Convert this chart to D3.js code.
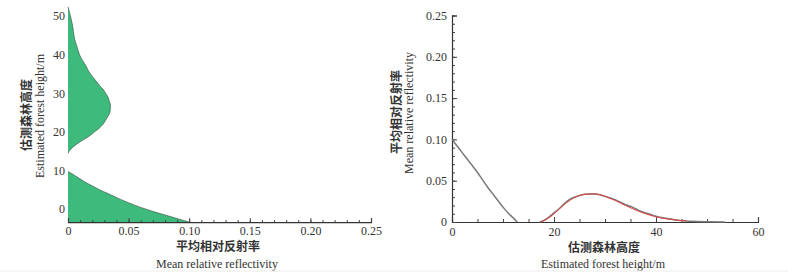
<!DOCTYPE html>
<html>
<head>
<meta charset="utf-8">
<script src="https://cdn.jsdelivr.net/npm/d3@7"></script>
<style>
  body { margin: 0; background: #fff; }
  svg text { font-family: "Liberation Serif", "DejaVu Serif", serif; fill: #333; }
  .cn { font-family: "Noto Sans CJK SC", sans-serif; font-weight: bold; }
</style>
</head>
<body>
<svg id="fig" width="788" height="274"></svg>
<script>
// Left panel: estimated height (m) vs mean relative reflectivity, filled profile
const lowHeight = [-3.4, -2, -1, 0, 1, 2, 3, 4, 5, 6, 7, 8, 9, 9.7];
const lowRefl   = [0.100, 0.085, 0.074, 0.064, 0.055, 0.047, 0.040, 0.033, 0.026, 0.020, 0.014, 0.009, 0.004, 0];
const upHeight  = [14.4, 15, 16, 17, 18, 19, 20, 21, 22, 23, 24, 25, 26, 27, 28, 29, 30, 31, 32, 33, 34, 35, 36, 37, 38, 39, 40, 42, 44, 46, 48, 50, 51, 52.4];
const upRefl    = [0, 0.001, 0.004, 0.008, 0.013, 0.018, 0.022, 0.026, 0.029, 0.031, 0.033, 0.0345, 0.035, 0.035, 0.034, 0.033, 0.031, 0.029, 0.026, 0.0235, 0.021, 0.0185, 0.0165, 0.015, 0.013, 0.011, 0.0095, 0.0075, 0.0055, 0.0045, 0.0035, 0.002, 0.0012, 0];

// Right panel: reflectivity vs estimated height
const grayHeight = [0, 1, 2, 3, 4, 5, 6, 7, 8, 9, 10, 11, 12, 12.8];
const grayRefl   = [0.100, 0.092, 0.084, 0.076, 0.068, 0.060, 0.051, 0.042, 0.034, 0.026, 0.018, 0.011, 0.005, 0];
const bumpHeight = [17.2, 18, 19, 20, 21, 22, 23, 24, 25, 26, 27, 28, 29, 30, 31, 32, 33, 34, 35, 36, 37, 38, 39, 40, 41, 42, 43, 44, 45, 46, 47, 48, 50, 53.5];
const bumpRefl   = [0, 0.002, 0.006, 0.011, 0.016, 0.022, 0.027, 0.030, 0.032, 0.0335, 0.034, 0.034, 0.033, 0.031, 0.029, 0.027, 0.024, 0.021, 0.019, 0.016, 0.013, 0.011, 0.009, 0.007, 0.0055, 0.0045, 0.0035, 0.0025, 0.0018, 0.0012, 0.0008, 0.0005, 0.0002, 0];
const fitHeight  = [17.5, 19, 20, 22, 24, 26, 28, 30, 32, 34, 36, 38, 40, 42, 44, 46];
const fitRefl    = [0, 0.005, 0.010, 0.021, 0.0295, 0.0335, 0.034, 0.031, 0.026, 0.020, 0.0145, 0.0098, 0.0063, 0.0038, 0.0022, 0.0012];

const reflTicks = [0, 0.05, 0.10, 0.15, 0.20, 0.25];
const reflLabels = ["0", "0.05", "0.10", "0.15", "0.20", "0.25"];
const heightTicksL = [0, 10, 20, 30, 40, 50];
const heightTicksR = [0, 20, 40, 60];

const svg = d3.select("#fig");

//////////////////// Left panel ////////////////////
const xL = d3.scaleLinear().domain([0, 0.25]).range([68, 371]);
const yL = d3.scaleLinear().domain([0, 50]).range([209, 16]);
const gL = svg.append("g");

const area = d3.area()
    .curve(d3.curveMonotoneY)
    .y(d => yL(d.h))
    .x0(xL(0))
    .x1(d => xL(d.v));
const edge = d3.line()
    .curve(d3.curveMonotoneY)
    .y(d => yL(d.h))
    .x(d => xL(d.v));

[[lowHeight, lowRefl], [upHeight, upRefl]].forEach(([hs, vs]) => {
    const data = hs.map((h, i) => ({h: h, v: vs[i]}));
    gL.append("path").datum(data)
        .attr("fill", "#3dba7c")
        .attr("d", area);
    gL.append("path").datum(data)
        .attr("fill", "none")
        .attr("stroke", "#3d4a42")
        .attr("stroke-width", 0.6)
        .attr("d", edge);
});

gL.append("g")
    .attr("transform", `translate(0,${yL(-3.4)})`)
    .call(d3.axisBottom(xL).tickValues(d3.range(0, 0.2501, 0.01)).tickSize(-2).tickFormat(""))
    .call(g => g.select(".domain").remove())
    .selectAll("line").attr("stroke", "#444");
gL.append("g")
    .attr("transform", `translate(0,${yL(-3.4)})`)
    .call(d3.axisBottom(xL).tickValues(reflTicks).tickSize(-4).tickPadding(4)
        .tickFormat((d, i) => reflLabels[i]))
    .call(g => g.select(".domain").attr("stroke", "#333").attr("stroke-width", 1.2))
    .call(g => g.selectAll("line").attr("stroke", "#444"))
    .call(g => g.selectAll("text").style("font-size", "12px").attr("fill", "#333"));

gL.append("g")
    .attr("transform", `translate(${xL(0)},0)`)
    .call(d3.axisLeft(yL).tickValues(heightTicksL).tickSize(0).tickPadding(3))
    .call(g => g.select(".domain").remove())
    .call(g => g.selectAll("text").style("font-size", "12px").attr("fill", "#333"));

gL.append("text").attr("class", "cn")
    .attr("x", 218).attr("y", 251).attr("text-anchor", "middle")
    .style("font-size", "12px").text("平均相对反射率");
gL.append("text")
    .attr("x", 217).attr("y", 268).attr("text-anchor", "middle")
    .style("font-size", "12px").text("Mean relative reflectivity");
gL.append("text").attr("class", "cn")
    .attr("transform", "translate(31,115) rotate(-90)").attr("text-anchor", "middle")
    .style("font-size", "12px").text("估测森林高度");
gL.append("text")
    .attr("transform", "translate(44,116) rotate(-90)").attr("text-anchor", "middle")
    .style("font-size", "12px").text("Estimated forest height/m");

//////////////////// Right panel ////////////////////
const xR = d3.scaleLinear().domain([0, 60]).range([452, 758]);
const yR = d3.scaleLinear().domain([0, 0.25]).range([222, 15.5]);
const gR = svg.append("g");

gR.append("g")
    .attr("transform", `translate(0,${yR(0)})`)
    .call(d3.axisBottom(xR).tickValues(d3.range(0, 61, 5)).tickSize(-3).tickFormat(""))
    .call(g => g.select(".domain").remove())
    .selectAll("line").attr("stroke", "#444");
gR.append("g")
    .attr("transform", `translate(0,${yR(0)})`)
    .call(d3.axisBottom(xR).tickValues(heightTicksR).tickSize(-5).tickPadding(5))
    .call(g => g.select(".domain").attr("stroke", "#333").attr("stroke-width", 1.2))
    .call(g => g.selectAll("line").attr("stroke", "#444"))
    .call(g => g.selectAll("text").style("font-size", "12px").attr("fill", "#333"));

gR.append("g")
    .attr("transform", `translate(${xR(0)},0)`)
    .call(d3.axisLeft(yR).tickValues(d3.range(0, 0.2501, 0.01)).tickSize(-3).tickFormat(""))
    .call(g => g.select(".domain").remove())
    .selectAll("line").attr("stroke", "#444");
gR.append("g")
    .attr("transform", `translate(${xR(0)},0)`)
    .call(d3.axisLeft(yR).tickValues(reflTicks).tickSize(-5).tickPadding(5)
        .tickFormat((d, i) => reflLabels[i]))
    .call(g => g.select(".domain").attr("stroke", "#333").attr("stroke-width", 1.2))
    .call(g => g.selectAll("line").attr("stroke", "#444"))
    .call(g => g.selectAll("text").style("font-size", "12px").attr("fill", "#333"));

const lineR = d3.line()
    .curve(d3.curveMonotoneX)
    .x(d => xR(d.h))
    .y(d => yR(d.v));

[[grayHeight, grayRefl], [bumpHeight, bumpRefl]].forEach(([hs, vs]) => {
    gR.append("path")
        .datum(hs.map((h, i) => ({h: h, v: vs[i]})))
        .attr("fill", "none")
        .attr("stroke", "#7a7a7a")
        .attr("stroke-width", 1.5)
        .attr("d", lineR);
});
gR.append("path")
    .datum(fitHeight.map((h, i) => ({h: h, v: fitRefl[i]})))
    .attr("fill", "none")
    .attr("stroke", "#e8413e")
    .attr("stroke-width", 1)
    .attr("d", lineR);

gR.append("text").attr("class", "cn")
    .attr("x", 604).attr("y", 252).attr("text-anchor", "middle")
    .style("font-size", "12px").text("估测森林高度");
gR.append("text")
    .attr("x", 603).attr("y", 268).attr("text-anchor", "middle")
    .style("font-size", "12px").text("Estimated forest height/m");
gR.append("text").attr("class", "cn")
    .attr("transform", "translate(401,112) rotate(-90)").attr("text-anchor", "middle")
    .style("font-size", "12px").text("平均相对反射率");
gR.append("text")
    .attr("transform", "translate(413,113) rotate(-90)").attr("text-anchor", "middle")
    .style("font-size", "12px").text("Mean relative reflectivity");

// faint rule along the bottom of the figure
svg.append("line")
    .attr("x1", 0).attr("x2", 788).attr("y1", 271).attr("y2", 271)
    .attr("stroke", "#eee");
</script>
</body>
</html>
